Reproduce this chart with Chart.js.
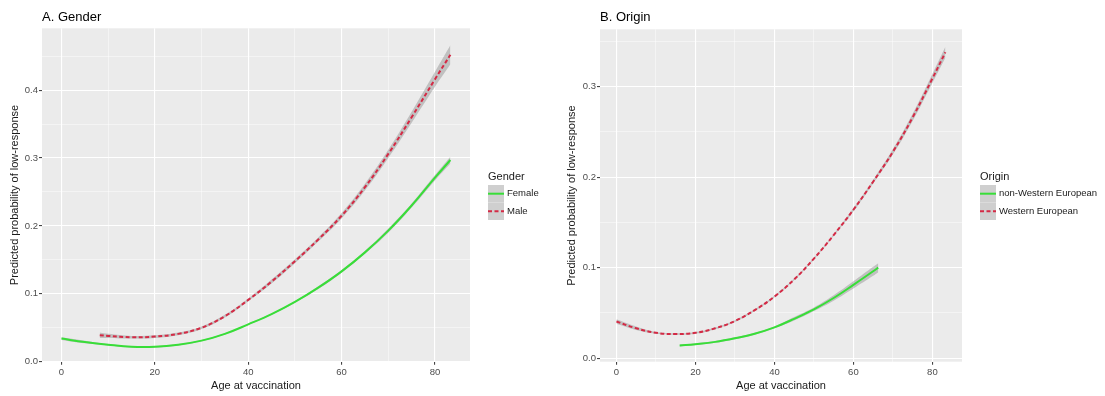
<!DOCTYPE html>
<html>
<head>
<meta charset="utf-8">
<script src="https://cdn.jsdelivr.net/npm/chart.js@4.4.1/dist/chart.umd.min.js"></script>
<style>
  body { margin: 0; background: #fff; width: 1105px; height: 396px; overflow: hidden; position: relative; }
  canvas { position: absolute; top: 0; }
</style>
</head>
<body>
<canvas id="gender" width="560" height="396" style="left:0"></canvas>
<canvas id="origin" width="545" height="396" style="left:560px"></canvas>
<script>
// ---- data ----
const ageTicks = [0, 10, 20, 30, 40, 50, 60, 70, 80];
const genderProbTicks = [0, 0.05, 0.1, 0.15, 0.2, 0.25, 0.3, 0.35, 0.4, 0.45];
const originProbTicks = [0, 0.05, 0.1, 0.15, 0.2, 0.25, 0.3, 0.35];

const genderLabels = ['Female', 'Male'];
const originLabels = ['non-Western European', 'Western European'];

// A. Gender
const femaleAge   = [0, 5, 10, 15, 20, 25, 30, 35, 40, 45, 50, 55, 60, 65, 70, 75, 80, 83.3];
const femaleProb  = [0.034, 0.029, 0.025, 0.022, 0.022, 0.025, 0.031, 0.041, 0.055, 0.070, 0.088, 0.109, 0.133, 0.161, 0.193, 0.230, 0.271, 0.297];
const femaleLower = [0.032, 0.027, 0.024, 0.021, 0.021, 0.024, 0.030, 0.040, 0.054, 0.069, 0.087, 0.107, 0.131, 0.159, 0.190, 0.227, 0.267, 0.292];
const femaleUpper = [0.036, 0.031, 0.026, 0.023, 0.023, 0.026, 0.032, 0.042, 0.056, 0.071, 0.089, 0.111, 0.135, 0.163, 0.196, 0.233, 0.275, 0.302];

const maleAge   = [8.2, 10, 15, 20, 25, 30, 35, 40, 45, 50, 55, 60, 65, 70, 75, 80, 83.3];
const maleProb  = [0.039, 0.038, 0.036, 0.037, 0.041, 0.050, 0.067, 0.091, 0.118, 0.148, 0.180, 0.215, 0.257, 0.306, 0.360, 0.416, 0.452];
const maleLower = [0.035, 0.035, 0.034, 0.035, 0.039, 0.048, 0.065, 0.089, 0.115, 0.145, 0.177, 0.211, 0.252, 0.300, 0.352, 0.405, 0.438];
const maleUpper = [0.043, 0.041, 0.038, 0.039, 0.043, 0.052, 0.069, 0.093, 0.121, 0.151, 0.183, 0.219, 0.262, 0.312, 0.368, 0.427, 0.466];

// B. Origin
const nonWestAge   = [16, 20, 25, 30, 35, 40, 45, 50, 55, 60, 65, 66.3];
const nonWestProb  = [0.014, 0.0155, 0.018, 0.022, 0.027, 0.034, 0.0435, 0.054, 0.0665, 0.081, 0.096, 0.100];
const nonWestLower = [0.013, 0.0145, 0.017, 0.021, 0.026, 0.033, 0.0415, 0.052, 0.0635, 0.077, 0.091, 0.095];
const nonWestUpper = [0.015, 0.0165, 0.019, 0.023, 0.028, 0.035, 0.0455, 0.056, 0.0695, 0.085, 0.101, 0.105];

const westAge   = [0, 5, 10, 15, 20, 25, 30, 35, 40, 45, 50, 55, 60, 65, 70, 75, 80, 83.3];
const westProb  = [0.0405, 0.033, 0.028, 0.0267, 0.028, 0.033, 0.041, 0.053, 0.068, 0.087, 0.110, 0.136, 0.164, 0.195, 0.228, 0.266, 0.309, 0.338];
const westLower = [0.038, 0.031, 0.027, 0.026, 0.027, 0.032, 0.040, 0.052, 0.067, 0.086, 0.109, 0.135, 0.162, 0.193, 0.225, 0.262, 0.304, 0.332];
const westUpper = [0.043, 0.035, 0.029, 0.0274, 0.029, 0.034, 0.042, 0.054, 0.069, 0.088, 0.111, 0.137, 0.166, 0.197, 0.231, 0.270, 0.314, 0.344];

const GREEN = '#38de38';
const RED = '#d42a45';
const BAND = 'rgba(140,140,140,0.45)';
const FONT = '"Liberation Sans", Arial, sans-serif';

const pts = (xs, ys) => xs.map((x, i) => ({ x: x, y: ys[i] }));

function series(xs, prob, lo, hi, color, dashed) {
  return [
    { data: pts(xs, lo), borderWidth: 0, pointRadius: 0, fill: false, order: 2, tension: 0.4 },
    { data: pts(xs, hi), borderWidth: 0, pointRadius: 0, fill: '-1', backgroundColor: BAND, order: 2, tension: 0.4 },
    { data: pts(xs, prob), borderColor: color, borderWidth: 2, borderDash: dashed ? [4, 2.5] : [], pointRadius: 0, fill: false, order: 1, tension: 0.4 }
  ];
}

// grey panel background, panel title and ggplot-like legend
const ggPlugin = {
  id: 'gg',
  beforeDraw(chart, args, o) {
    const { ctx, chartArea: a } = chart;
    ctx.save();
    ctx.fillStyle = '#ebebeb';
    ctx.fillRect(a.left, a.top, a.right - a.left, a.bottom - a.top);
    ctx.restore();
  },
  afterDraw(chart, args, o) {
    const ctx = chart.ctx;
    const a = chart.chartArea;
    ctx.save();
    ctx.fillStyle = '#000';
    ctx.textBaseline = 'middle';
    ctx.font = '13px ' + FONT;
    ctx.fillText(o.title, a.left, 17.5);

    ctx.fillStyle = '#1a1a1a';
    ctx.font = '11px ' + FONT;
    ctx.fillText(o.legendTitle, o.lx, 177);
    o.labels.forEach((lab, i) => {
      const ky = 185 + i * 17.5;
      ctx.fillStyle = '#cfcfcf';
      ctx.fillRect(o.lx, ky, 16, 17.5);
      ctx.beginPath();
      ctx.lineWidth = 2;
      ctx.strokeStyle = o.colors[i];
      ctx.setLineDash(o.dashes[i]);
      ctx.moveTo(o.lx, ky + 8.7);
      ctx.lineTo(o.lx + 16, ky + 8.7);
      ctx.stroke();
      ctx.setLineDash([]);
      ctx.fillStyle = '#1a1a1a';
      ctx.font = '9.5px ' + FONT;
      ctx.fillText(lab, o.lx + 19, ky + 8.7);
    });
    ctx.restore();
  }
};

function makeChart(id, cfg) {
  const isMajorX = v => v % 20 === 0;
  const isMajorY = v => Math.round(v * 100) % 10 === 0;
  new Chart(document.getElementById(id), {
    type: 'line',
    data: { datasets: cfg.datasets },
    plugins: [ggPlugin],
    options: {
      responsive: false,
      animation: false,
      devicePixelRatio: 1,
      layout: { padding: { left: 0, right: cfg.padRight, top: cfg.padTop, bottom: 0 } },
      plugins: {
        legend: { display: false },
        tooltip: { enabled: false },
        gg: cfg.gg
      },
      scales: {
        x: {
          type: 'linear',
          min: -4.17,
          max: 87.5,
          afterBuildTicks: s => { s.ticks = ageTicks.map(v => ({ value: v })); },
          afterFit: s => { s.height = 34.3; },
          border: { display: false },
          grid: {
            color: c => isMajorX(c.tick.value) ? '#ffffff' : 'rgba(255,255,255,0.75)',
            lineWidth: c => isMajorX(c.tick.value) ? 1.1 : 0.6,
            tickLength: 3,
            tickColor: c => isMajorX(c.tick.value) ? '#444' : 'rgba(0,0,0,0)'
          },
          ticks: {
            autoSkip: false, maxRotation: 0, padding: 2,
            color: '#4d4d4d', font: { family: FONT, size: 9.5 },
            callback: v => isMajorX(v) ? String(v) : ''
          },
          title: {
            display: true, text: 'Age at vaccination', color: '#1a1a1a',
            font: { family: FONT, size: 11 }, padding: { top: 0, bottom: 3 }
          }
        },
        y: {
          type: 'linear',
          min: cfg.yMin,
          max: cfg.yMax,
          afterBuildTicks: s => { s.ticks = cfg.yTicks.map(v => ({ value: v })); },
          afterFit: s => { s.width = cfg.yWidth; },
          border: { display: false },
          grid: {
            color: c => isMajorY(c.tick.value) ? '#ffffff' : 'rgba(255,255,255,0.75)',
            lineWidth: c => isMajorY(c.tick.value) ? 1.1 : 0.6,
            tickLength: 3,
            tickColor: c => isMajorY(c.tick.value) ? '#444' : 'rgba(0,0,0,0)'
          },
          ticks: {
            autoSkip: false, padding: 1,
            color: '#4d4d4d', font: { family: FONT, size: 9.5 },
            callback: v => isMajorY(v) ? v.toFixed(1) : ''
          },
          title: {
            display: true, text: 'Predicted probability of low-response', color: '#1a1a1a',
            font: { family: FONT, size: 11 }, padding: { top: cfg.yTitlePad, bottom: 0 }
          }
        }
      }
    }
  });
}

makeChart('gender', {
  datasets: [
    ...series(femaleAge, femaleProb, femaleLower, femaleUpper, GREEN, false),
    ...series(maleAge, maleProb, maleLower, maleUpper, RED, true)
  ],
  yMin: 0, yMax: 0.491, yTicks: genderProbTicks,
  yWidth: 42, padRight: 90, padTop: 28.3, yTitlePad: 8,
  gg: { title: 'A. Gender', legendTitle: 'Gender', labels: genderLabels, lx: 488,
        colors: [GREEN, RED], dashes: [[], [4, 2.5]] }
});

makeChart('origin', {
  datasets: [
    ...series(nonWestAge, nonWestProb, nonWestLower, nonWestUpper, GREEN, false),
    ...series(westAge, westProb, westLower, westUpper, RED, true)
  ],
  yMin: -0.0039, yMax: 0.3634, yTicks: originProbTicks,
  yWidth: 40, padRight: 143, padTop: 29.3, yTitlePad: 5.5,
  gg: { title: 'B. Origin', legendTitle: 'Origin', labels: originLabels, lx: 420,
        colors: [GREEN, RED], dashes: [[], [4, 2.5]] }
});
</script>
</body>
</html>
